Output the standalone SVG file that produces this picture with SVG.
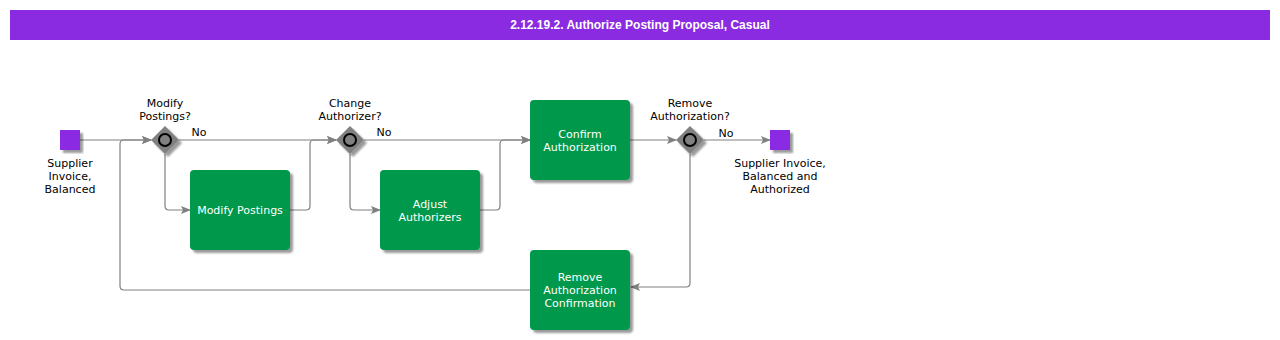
<svg xmlns="http://www.w3.org/2000/svg" width="1280" height="340" viewBox="0 0 1280 340">
<defs>
<marker id="arr" markerWidth="10" markerHeight="8" refX="9" refY="4" orient="auto" markerUnits="userSpaceOnUse">
<path d="M0,0 L10,4 L0,8 L2,4 Z" fill="#808080"/>
</marker>
<filter id="sh" x="-20%" y="-20%" width="140%" height="140%">
<feGaussianBlur in="SourceAlpha" stdDeviation="1.2"/>
<feOffset dx="3" dy="3" result="b"/>
<feComponentTransfer><feFuncA type="linear" slope="0.4"/></feComponentTransfer>
<feMerge><feMergeNode/><feMergeNode in="SourceGraphic"/></feMerge>
</filter>
</defs>
<style>
.lbl{font-family:"DejaVu Sans",Verdana,sans-serif;font-size:11px;fill:#000;text-anchor:middle}
.wt{font-family:"DejaVu Sans",Verdana,sans-serif;font-size:11px;fill:#fff;text-anchor:middle}
.task{fill:#00994c;filter:url(#sh)}
.ev{fill:#8a2be2;filter:url(#sh)}
.gw{fill:#808080;filter:url(#sh)}
.gc{fill:#808080;stroke:#000;stroke-width:2}
.c{fill:none;stroke:#808080;stroke-width:1.2}
</style>
<rect width="1280" height="340" fill="#fff"/>
<g id="title">
<rect x="10" y="10" width="1260" height="30" fill="#8a2be2"/>
<text x="640" y="29" font-family="'Liberation Sans',Arial,sans-serif" font-size="12" font-weight="bold" fill="#fff" text-anchor="middle">2.12.19.2. Authorize Posting Proposal, Casual</text>
</g>
<g id="connectors">
<path class="c" d="M80,140 H151" marker-end="url(#arr)"/>
<path class="c" d="M530,290 H124 Q120,290 120,286 V144 Q120,140 124,140 H151" marker-end="url(#arr)"/>
<path class="c" d="M179,140 H336" marker-end="url(#arr)"/>
<path class="c" d="M165,154 V206 Q165,210 169,210 H190" marker-end="url(#arr)"/>
<path class="c" d="M290,210 H306 Q310,210 310,206 V144 Q310,140 314,140 H336" marker-end="url(#arr)"/>
<path class="c" d="M364,140 H530" marker-end="url(#arr)"/>
<path class="c" d="M350,154 V206 Q350,210 354,210 H380" marker-end="url(#arr)"/>
<path class="c" d="M480,210 H496 Q500,210 500,206 V144 Q500,140 504,140 H530" marker-end="url(#arr)"/>
<path class="c" d="M630,140 H676" marker-end="url(#arr)"/>
<path class="c" d="M704,140 H770" marker-end="url(#arr)"/>
<path class="c" d="M690,154 V283 Q690,287 686,287 H631" marker-end="url(#arr)"/>
<text class="lbl" x="199" y="136">No</text>
<text class="lbl" x="384" y="136">No</text>
<text class="lbl" x="726" y="137">No</text>
</g>
<g id="start">
<rect class="ev" x="60" y="130" width="20" height="20"/>
<text class="lbl" x="70" y="167">Supplier</text>
<text class="lbl" x="70" y="180">Invoice,</text>
<text class="lbl" x="70" y="193">Balanced</text>
</g>
<g id="gw1">
<path class="gw" d="M165,126 L179,140 L165,154 L151,140 Z"/>
<circle class="gc" cx="165" cy="140" r="6"/>
<text class="lbl" x="165" y="107">Modify</text>
<text class="lbl" x="165" y="120">Postings?</text>
</g>
<g id="modify">
<rect class="task" x="190" y="170" width="100" height="80" rx="4"/>
<text class="wt" x="240" y="214">Modify Postings</text>
</g>
<g id="gw2">
<path class="gw" d="M350,126 L364,140 L350,154 L336,140 Z"/>
<circle class="gc" cx="350" cy="140" r="6"/>
<text class="lbl" x="350" y="107">Change</text>
<text class="lbl" x="350" y="120">Authorizer?</text>
</g>
<g id="adjust">
<rect class="task" x="380" y="170" width="100" height="80" rx="4"/>
<text class="wt" x="430" y="208">Adjust</text>
<text class="wt" x="430" y="221">Authorizers</text>
</g>
<g id="confirm">
<rect class="task" x="530" y="100" width="100" height="80" rx="4"/>
<text class="wt" x="580" y="138">Confirm</text>
<text class="wt" x="580" y="151">Authorization</text>
</g>
<g id="gw3">
<path class="gw" d="M690,126 L704,140 L690,154 L676,140 Z"/>
<circle class="gc" cx="690" cy="140" r="6"/>
<text class="lbl" x="690" y="107">Remove</text>
<text class="lbl" x="690" y="120">Authorization?</text>
</g>
<g id="end">
<rect class="ev" x="770" y="130" width="20" height="20"/>
<text class="lbl" x="780" y="167">Supplier Invoice,</text>
<text class="lbl" x="780" y="180">Balanced and</text>
<text class="lbl" x="780" y="193">Authorized</text>
</g>
<g id="remove">
<rect class="task" x="530" y="250" width="100" height="80" rx="4"/>
<text class="wt" x="580" y="281">Remove</text>
<text class="wt" x="580" y="294">Authorization</text>
<text class="wt" x="580" y="307">Confirmation</text>
</g>
</svg>
